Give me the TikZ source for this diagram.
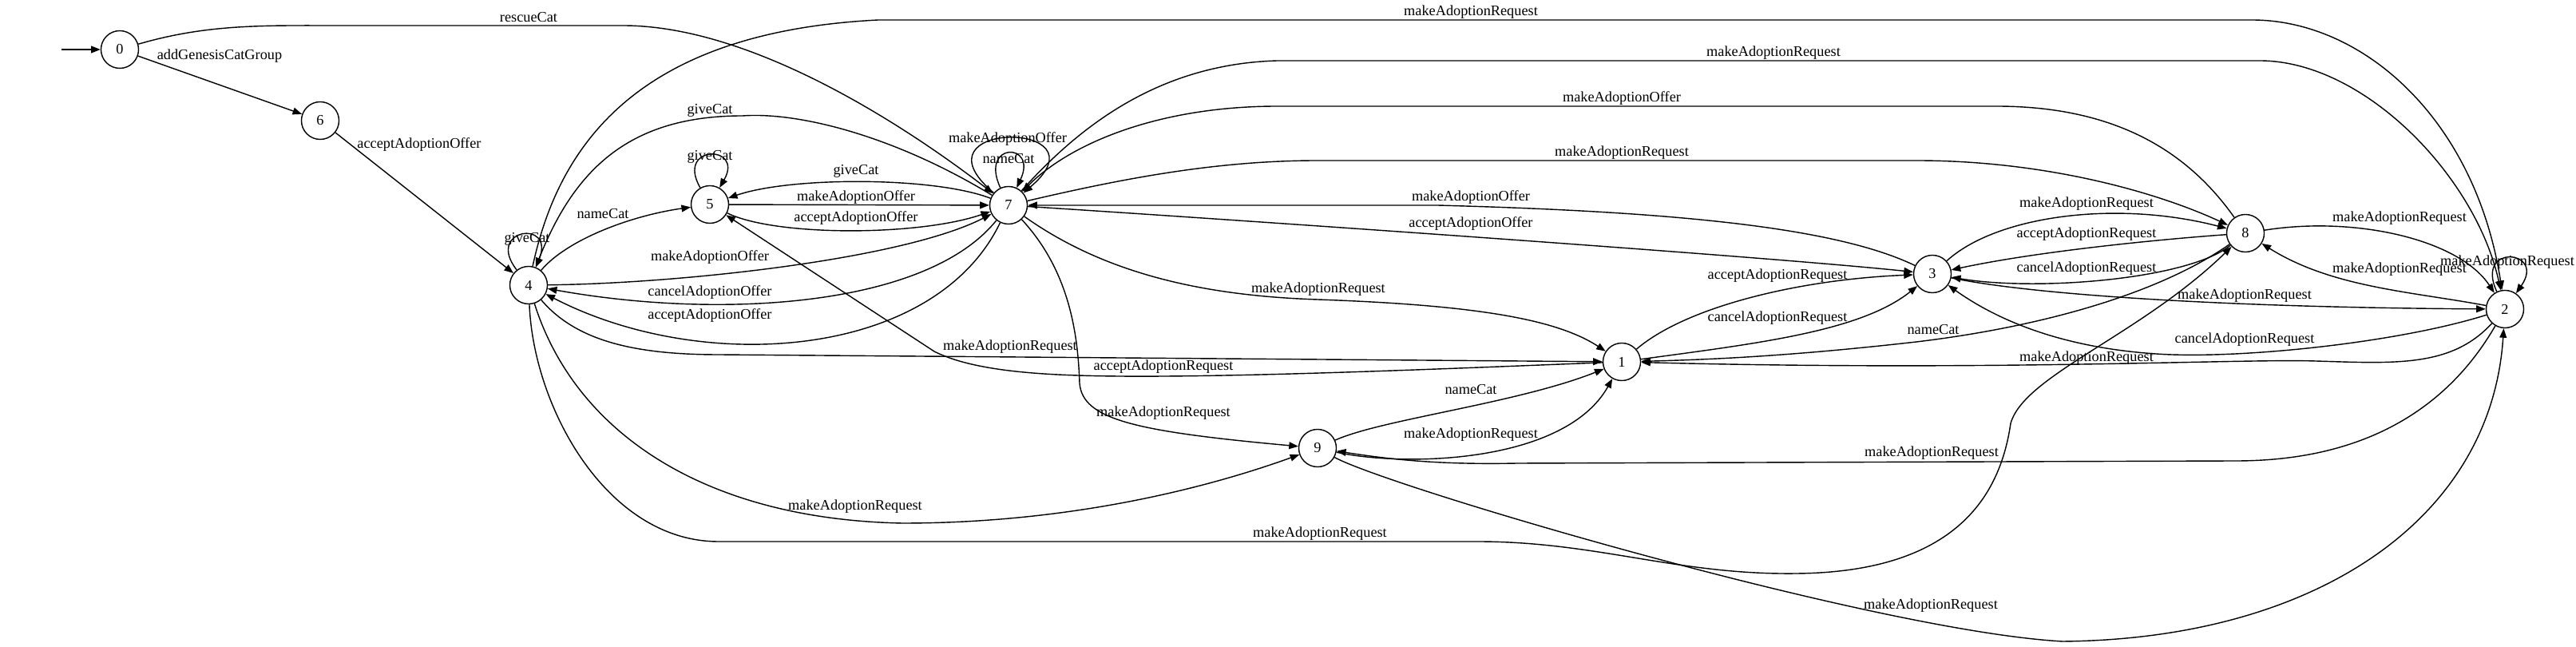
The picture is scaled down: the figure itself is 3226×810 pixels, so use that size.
\documentclass[tikz,border=0pt]{standalone}
\usepackage{fontspec}
\setmainfont{Liberation Serif}
\usetikzlibrary{arrows.meta}

\begin{document}
\begin{tikzpicture}[
  x=0.01cm, y=0.01cm,
  every node/.style={font=\fontsize{5.2}{6}\selectfont},
  st/.style={circle, draw, line width=0.4pt, minimum size=0.47cm, inner sep=0pt},
  lbl/.style={inner sep=0pt},
  tr/.style={-{Triangle[length=3.3pt, width=2.5pt]}, line width=0.4pt},
]
\useasboundingbox (0,0) rectangle (3226,-810);

% States
\node[st] (s0) at (150,-62) {0};
\node[st] (s6) at (401,-151) {6};
\node[st] (s4) at (662,-357) {4};
\node[st] (s5) at (889,-256) {5};
\node[st] (s7) at (1263,-257) {7};
\node[st] (s9) at (1650,-561) {9};
\node[st] (s1) at (2031,-453) {1};
\node[st] (s3) at (2420,-343) {3};
\node[st] (s8) at (2812,-292) {8};
\node[st] (s2) at (3137,-387) {2};
\coordinate (init) at (77,-62);

% Start
\draw[tr] (init) -- (s0);
\draw[tr] (s0) -- (s6) node[lbl] at (275,-70) {addGenesisCatGroup};
\draw[tr] (s0) .. controls (260,-30) and (330,-32) .. (420,-32) -- (780,-32) .. controls (950,-32) and (1150,-170) .. (s7) node[lbl] at (662,-22) {rescueCat};
\draw[tr] (s6) -- (s4) node[lbl] at (525,-181) {acceptAdoptionOffer};

% Around 4, 5 and 7
\draw[tr] (s4) to[out=128, in=68, distance=0.655cm] (s4) node[lbl] at (660,-299) {giveCat};
\draw[tr] (s4) .. controls (710,-300) and (790,-270) .. (s5) node[lbl] at (755,-268) {nameCat};
\draw[tr] (s5) to[out=120, in=60, distance=0.63cm] (s5) node[lbl] at (889,-196) {giveCat};
\draw[tr] (s7) .. controls (1170,-221) and (990,-221) .. (s5) node[lbl] at (1072,-214) {giveCat};
\draw[tr] (s5) -- (s7) node[lbl] at (1072,-247) {makeAdoptionOffer};
\draw[tr] (s5) .. controls (970,-296) and (1150,-296) .. (s7) node[lbl] at (1072,-273) {acceptAdoptionOffer};
\draw[tr] (s7) .. controls (1120,-170) and (1000,-140) .. (930,-145) .. controls (790,-145) and (720,-210) .. (s4) node[lbl] at (889,-138) {giveCat};
\draw[tr] (s7) to[out=140, in=40, distance=1.425cm] (s7) node[lbl] at (1262,-174) {makeAdoptionOffer};
\draw[tr] (s7) to[out=115, in=65, distance=0.635cm] (s7) node[lbl] at (1263,-199) {nameCat};
\draw[tr] (s4) .. controls (850,-355) and (1130,-325) .. (s7) node[lbl] at (889,-322) {makeAdoptionOffer};
\draw[tr] (s7) .. controls (1160,-385) and (900,-400) .. (s4) node[lbl] at (889,-366) {cancelAdoptionOffer};
\draw[tr] (s7) .. controls (1170,-450) and (880,-470) .. (s4) node[lbl] at (889,-395) {acceptAdoptionOffer};

% Long edges along the top
\draw[tr] (s4) .. controls (700,-180) and (800,-40) .. (1100,-25) -- (2820,-25) .. controls (2960,-25) and (3100,-150) .. (s2) node[lbl] at (1842,-15) {makeAdoptionRequest};
\draw[tr] (s7) .. controls (1350,-160) and (1450,-80) .. (1600,-76) -- (2830,-76) .. controls (2960,-76) and (3100,-220) .. (s2) node[lbl] at (2221,-66) {makeAdoptionRequest};
\draw[tr] (s8) .. controls (2740,-190) and (2650,-133) .. (2500,-133) -- (1600,-133) .. controls (1450,-133) and (1340,-180) .. (s7) node[lbl] at (2031,-123) {makeAdoptionOffer};
\draw[tr] (s7) .. controls (1400,-225) and (1520,-201) .. (1650,-201) -- (2400,-201) .. controls (2560,-201) and (2700,-240) .. (s8) node[lbl] at (2031,-191) {makeAdoptionRequest};
\draw[tr] (s3) .. controls (2300,-285) and (2100,-265) .. (1800,-257) -- (s7) node[lbl] at (1842,-247) {makeAdoptionOffer};
\draw[tr] (s7) .. controls (1500,-272) and (2200,-320) .. (s3) node[lbl] at (1842,-280) {acceptAdoptionOffer};

% Towards 1 and 9
\draw[tr] (s7) .. controls (1380,-340) and (1500,-370) .. (1650,-375) .. controls (1850,-382) and (1950,-400) .. (s1) node[lbl] at (1651,-362) {makeAdoptionRequest};
\draw[tr] (s4) .. controls (720,-425) and (790,-444) .. (900,-444) -- (s1) node[lbl] at (1265,-434) {makeAdoptionRequest};
\draw[tr] (s1) .. controls (1800,-462) and (1500,-475) .. (1350,-470) .. controls (1250,-467) and (1200,-455) .. (1170,-440) -- (s5) node[lbl] at (1457,-459) {acceptAdoptionRequest};
\draw[tr] (s4) .. controls (720,-540) and (880,-650) .. (1130,-655) .. controls (1330,-655) and (1500,-615) .. (s9) node[lbl] at (1071,-634) {makeAdoptionRequest};
\draw[tr] (s4) .. controls (668,-510) and (760,-678) .. (900,-678) -- (1850,-678) .. controls (2000,-678) and (2100,-720) .. (2250,-718) .. controls (2450,-716) and (2505,-620) .. (2518,-530) .. controls (2535,-470) and (2680,-420) .. (s8) node[lbl] at (1653,-668) {makeAdoptionRequest};
\draw[tr] (s7) .. controls (1340,-340) and (1350,-420) .. (1352,-480) .. controls (1356,-525) and (1420,-540) .. (s9) node[lbl] at (1457,-517) {makeAdoptionRequest};
\draw[tr] (s9) .. controls (1730,-525) and (1900,-505) .. (s1) node[lbl] at (1842,-488) {nameCat};
\draw[tr] (s9) .. controls (1760,-585) and (1960,-580) .. (s1) node[lbl] at (1842,-544) {makeAdoptionRequest};
\draw[tr] (s2) .. controls (3060,-520) and (2950,-577) .. (2800,-577) -- (1900,-580) .. controls (1800,-582) and (1740,-575) .. (s9) node[lbl] at (2419,-567) {makeAdoptionRequest};
\draw[tr] (s9) .. controls (1740,-610) and (2350,-790) .. (2583,-803) .. controls (2900,-800) and (3120,-650) .. (s2) node[lbl] at (2418,-758) {makeAdoptionRequest};

% Between 1, 3, 8 and 2
\draw[tr] (s1) .. controls (2110,-385) and (2250,-350) .. (s3) node[lbl] at (2226,-345) {acceptAdoptionRequest};
\draw[tr] (s1) .. controls (2200,-430) and (2330,-415) .. (s3) node[lbl] at (2226,-398) {cancelAdoptionRequest};
\draw[tr] (s8) .. controls (2700,-370) and (2550,-410) .. (2400,-428) .. controls (2250,-445) and (2150,-450) .. (s1) node[lbl] at (2421,-413) {nameCat};
\draw[tr] (s2) .. controls (3070,-460) and (3000,-455) .. (2900,-452) .. controls (2800,-449) and (2500,-465) .. (s1) node[lbl] at (2613,-448) {makeAdoptionRequest};
\draw[tr] (s2) .. controls (3000,-430) and (2800,-450) .. (2700,-443) .. controls (2580,-435) and (2500,-400) .. (s3) node[lbl] at (2811,-425) {cancelAdoptionRequest};
\draw[tr] (s3) .. controls (2550,-370) and (2800,-385) .. (s2) node[lbl] at (2811,-370) {makeAdoptionRequest};
\draw[tr] (s3) .. controls (2500,-270) and (2650,-250) .. (s8) node[lbl] at (2613,-255) {makeAdoptionRequest};
\draw[tr] (s8) .. controls (2700,-300) and (2550,-315) .. (s3) node[lbl] at (2613,-293) {acceptAdoptionRequest};
\draw[tr] (s8) .. controls (2740,-350) and (2550,-365) .. (s3) node[lbl] at (2613,-336) {cancelAdoptionRequest};
\draw[tr] (s8) .. controls (2950,-270) and (3080,-300) .. (s2) node[lbl] at (3005,-273) {makeAdoptionRequest};
\draw[tr] (s2) .. controls (3020,-365) and (2920,-360) .. (s8) node[lbl] at (3005,-337) {makeAdoptionRequest};
\draw[tr] (s2) to[out=115, in=55, distance=0.67cm] (s2) node[lbl] at (3140,-328) {makeAdoptionRequest};

\end{tikzpicture}
\end{document}
